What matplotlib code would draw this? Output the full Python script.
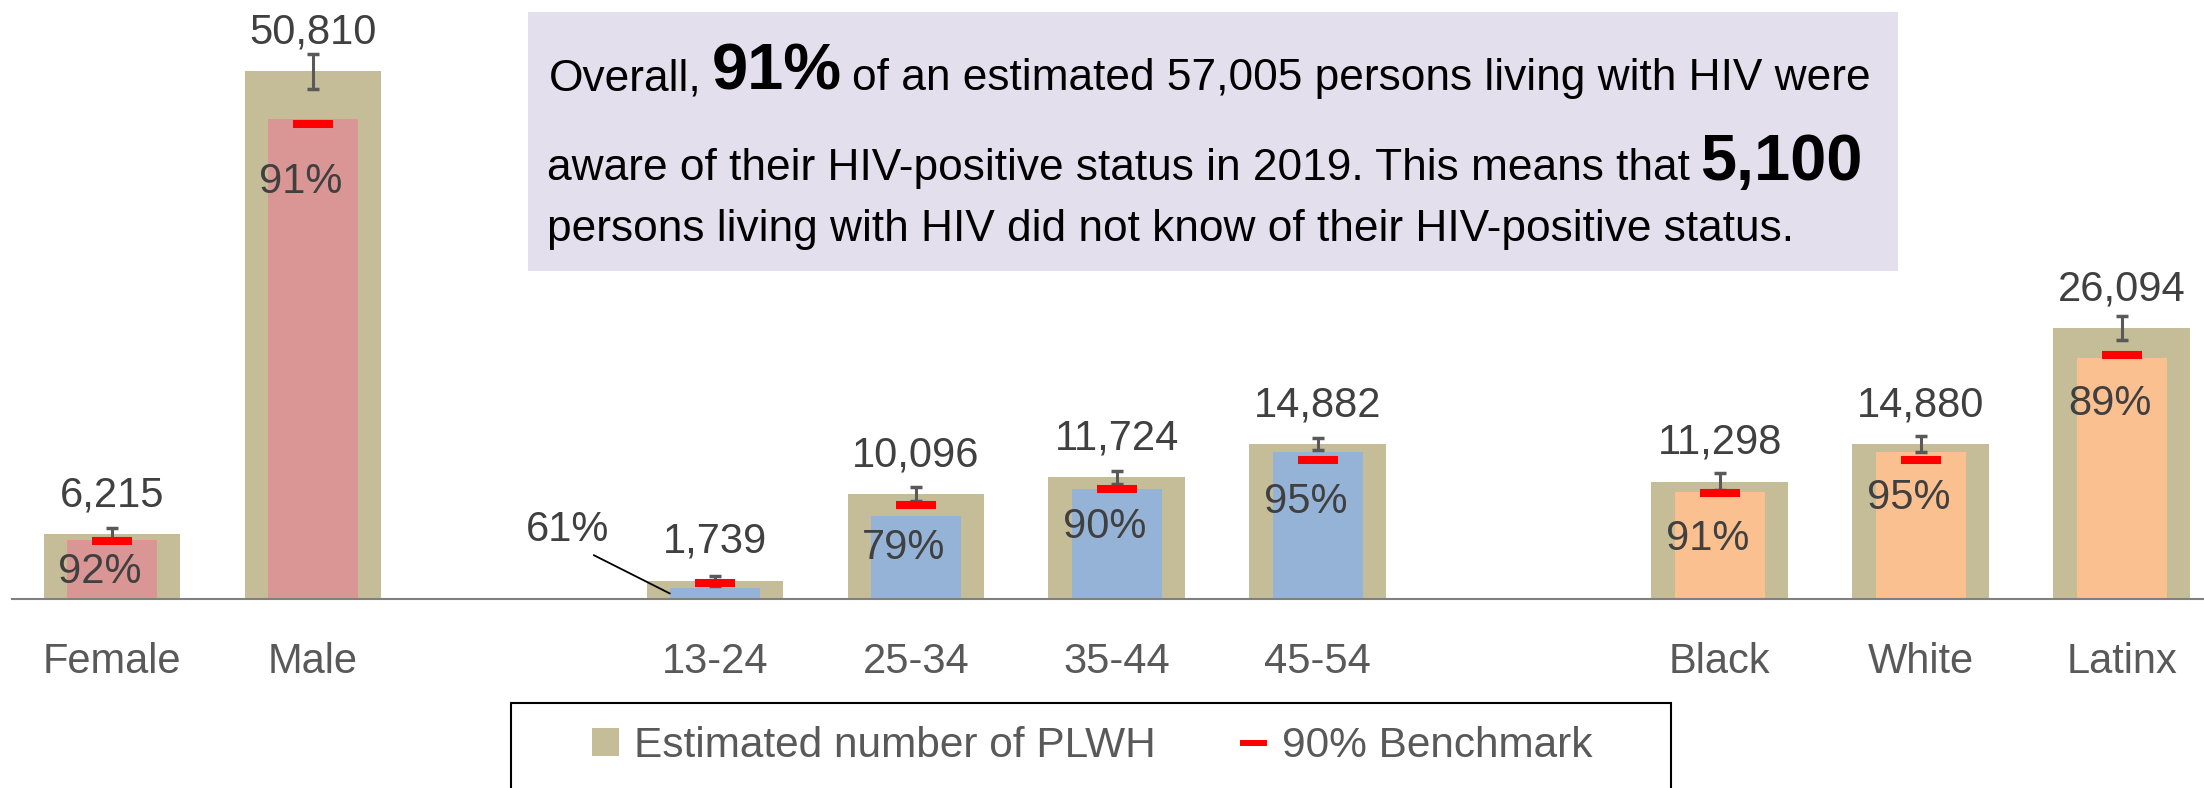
import matplotlib
matplotlib.use('Agg')
import matplotlib.pyplot as plt
from matplotlib.patches import Rectangle, Patch
from matplotlib.lines import Line2D
import numpy as np

plt.rcParams['font.family'] = ['Liberation Sans', 'DejaVu Sans']

# ---------------- data ----------------
sex_labels = ['Female', 'Male']
sex_total = [6215, 50810]
sex_pct = [92, 91]
sex_err = [580, 1690]

age_labels = ['13-24', '25-34', '35-44', '45-54']
age_total = [1739, 10096, 11724, 14882]
age_pct = [61, 79, 90, 95]
age_err = [480, 670, 650, 580]

race_labels = ['Black', 'White', 'Latinx']
race_total = [11298, 14880, 26094]
race_pct = [91, 95, 89]
race_err = [820, 770, 1160]

benchmark = 0.90
legend_labels = ['Estimated number of PLWH', '90% Benchmark']

# ---------------- style ----------------
W, H = 2204, 788
TAN = '#C4BD97'
inner_colors = ['#D99694', '#95B3D7', '#FAC090']
VAL_COLOR = '#404040'
CAT_COLOR = '#595959'
pct_dy = [[32, 63], [None, 32, 38, 50], [47, 46, 46]]  # label offsets (px) below inner bar top

fig = plt.figure(figsize=(W / 100, H / 100), dpi=100)
base_px = 599
px_per_unit = 527.6 / 50810
ax = fig.add_axes([11.5 / W, 1 - base_px / H, (W - 11.5) / W, base_px / H])
ax.set_ylim(0, base_px / px_per_unit)
ax.set_xlim(-0.5, 10.41)

groups = [
    (sex_labels, sex_total, sex_pct, sex_err),
    (age_labels, age_total, age_pct, age_err),
    (race_labels, race_total, race_pct, race_err),
]

all_pos, all_lab = [], []
pos = 0
outer_w, inner_w = 0.68, 0.448
for gi, (labels, total, pct, err) in enumerate(groups):
    n = len(labels)
    x = pos + np.arange(n)
    pos += n + 1
    total = np.array(total, dtype=float)
    aware = total * np.array(pct) / 100.0
    ax.bar(x, total, width=outer_w, color=TAN, zorder=1)
    ax.bar(x, aware, width=inner_w, color=inner_colors[gi], zorder=2)
    ax.errorbar(x, total, yerr=err, fmt='none', ecolor='#595959',
                elinewidth=2.2, capsize=4.3, capthick=2.5, zorder=3)
    ax.hlines(total * benchmark, x - 0.1, x + 0.1, colors='#FF0000',
              linewidth=5.8, capstyle='butt', zorder=4)
    for i in range(n):
        ax.annotate(f'{int(total[i]):,}', xy=(x[i], total[i]), xytext=(0, 39),
                    textcoords='offset pixels', ha='center', va='center',
                    fontsize=30, color=VAL_COLOR, zorder=6)
        dy = pct_dy[gi][i]
        if dy is None:
            ax.annotate(f'{pct[i]}%', xy=(x[i] - inner_w / 2, aware[i] / 2),
                        xytext=(-102, 63), textcoords='offset pixels',
                        ha='center', va='center', fontsize=30, color=VAL_COLOR,
                        arrowprops=dict(arrowstyle='-', color='black', lw=1.3,
                                        relpos=(0.7, 0.0), shrinkA=3, shrinkB=0),
                        zorder=6)
        else:
            ax.annotate(f'{pct[i]}%', xy=(x[i], aware[i]), xytext=(-12, -dy),
                        textcoords='offset pixels', ha='center', va='center',
                        fontsize=30, color=VAL_COLOR, zorder=6)
    all_pos += list(x)
    all_lab += labels

ax.set_xticks(all_pos)
ax.set_xticklabels(all_lab, fontsize=30, color=CAT_COLOR)
ax.tick_params(axis='x', length=0, pad=31)
ax.set_yticks([])
for s in ['top', 'left', 'right']:
    ax.spines[s].set_visible(False)
ax.spines['bottom'].set_color('#808080')
ax.spines['bottom'].set_linewidth(1.5)
ax.patch.set_visible(False)

# ---------------- text box ----------------
fig.add_artist(Rectangle((528 / W, 1 - 271 / H), (1898 - 528) / W, (271 - 12) / H,
                         transform=fig.transFigure, facecolor='#E4DFEC',
                         edgecolor='none', zorder=5))
renderer = fig.canvas.get_renderer()
REG, BIG = 31.9, 46.8
gap = 10


def place_line(pieces, x0, ybase):
    xx = x0
    for txt, size, weight in pieces:
        t = fig.text(xx / W, 1 - ybase / H, txt, fontsize=size, fontweight=weight,
                     ha='left', va='baseline', color='black', zorder=7)
        bb = t.get_window_extent(renderer=renderer)
        xx = bb.x1 + gap


place_line([('Overall,', REG, 'normal'), ('91%', BIG, 'bold'),
            ('of an estimated 57,005 persons living with HIV were', REG, 'normal')], 549, 90)
place_line([('aware of their HIV-positive status in 2019. This means that', REG, 'normal'),
            ('5,100', BIG, 'bold')], 547, 180)
place_line([('persons living with HIV did not know of their HIV-positive status.', REG, 'normal')],
           547, 241)

# ---------------- legend ----------------
fig.add_artist(Rectangle((511 / W, 1 - 803 / H), (1671 - 511) / W, 100 / H,
                         transform=fig.transFigure, fill=False, edgecolor='black',
                         linewidth=1.5, clip_on=False, zorder=5))
handles = [Patch(facecolor=TAN, edgecolor='none'),
           Line2D([0], [0], color='#FF0000', lw=4.3, solid_capstyle='butt')]
fig.legend(handles, legend_labels, loc='center left',
           bbox_to_anchor=(592 / W, 1 - 746 / H), ncol=2, frameon=False,
           borderpad=0, borderaxespad=0, handlelength=0.64, handleheight=0.64,
           handletextpad=0.35, columnspacing=1.98, fontsize=30.5,
           labelcolor=CAT_COLOR)

fig.savefig('out.png', dpi=100)
